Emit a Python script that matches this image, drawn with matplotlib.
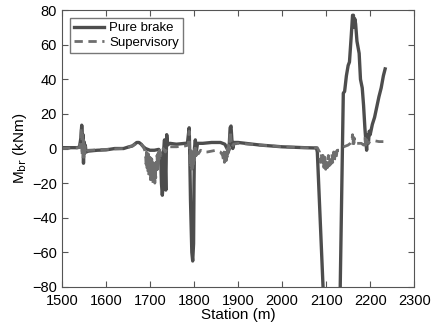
import matplotlib
matplotlib.use('Agg')
import matplotlib.pyplot as plt

# station (m) and braking moment (kNm)
pure_station = [1500, 1520, 1535, 1540, 1543, 1545, 1546, 1547, 1548, 1549, 1550, 1551, 1553, 1555,
                1560, 1580, 1600, 1620, 1640, 1650, 1660, 1670, 1675, 1680, 1685, 1690, 1700, 1710,
                1720, 1724, 1726, 1728, 1730, 1731, 1733, 1734, 1736, 1737, 1738, 1740, 1745, 1760,
                1780, 1785, 1789, 1790, 1792, 1795, 1797, 1799, 1800, 1801, 1803, 1805, 1808, 1820,
                1840, 1860, 1870, 1875, 1878, 1880, 1882, 1884, 1886, 1888, 1890, 1900, 1950, 2000,
                2050, 2078, 2080, 2093, 2119, 2132, 2139, 2142, 2146, 2150, 2153, 2157, 2160, 2162,
                2163, 2165, 2167, 2170, 2175, 2178, 2182, 2185, 2188, 2190, 2192, 2194, 2196, 2198,
                2200, 2205, 2210, 2215, 2220, 2225, 2230, 2234]
pure_moment = [0.5, 0.5, 0.5, 1, 6, 13.5, 10, -2, 8, -8.5, 4, -3, 2, -2,
               -1.5, -1, -0.8, 0, 0, 0.8, 1.5, 3.5, 3.5, 2.5, 1, 0, -1, -1,
               -0.5, -3, -20, -27, -20, -1, 5, -5, -24, -3, 8, 2, 3, 2.5,
               3, 3, 12, 1, -30, -60, -65, -55, -20, 0, 5, -2, 3, 3,
               3.5, 3.5, 2.5, 0, -2, 2, 12, 13, 5, 0, 3.5, 3.5, 2, 1,
               0.5, 0.3, -2, -80, -240, -80, 32, 33, 42, 48, 50, 65, 77, 77,
               70, 75, 72, 62, 55, 40, 35, 25, 12, 5, -1, 8, 3, 10,
               8, 14, 18, 24, 30, 35, 42, 46]

sup_station = [1500, 1540, 1543, 1544, 1545, 1546, 1547, 1548, 1549, 1550, 1551, 1552, 1553, 1556,
               1560, 1600, 1640, 1660, 1670, 1678, 1685, 1688,
               1690, 1691, 1692, 1693, 1694, 1695, 1696, 1697, 1698, 1699, 1700, 1701, 1702, 1703,
               1704, 1705, 1706, 1707, 1708, 1709, 1710, 1711, 1712, 1713, 1714, 1715, 1716, 1717,
               1718, 1719, 1720, 1721, 1722, 1725, 1730, 1735, 1740, 1760, 1780, 1787,
               1788, 1789, 1790, 1791, 1792, 1793, 1794, 1795, 1796, 1797, 1798, 1799, 1800, 1801,
               1802, 1803, 1804, 1805, 1806, 1807, 1810, 1815, 1820, 1830, 1840, 1850,
               1860, 1865, 1867, 1868, 1869, 1870, 1871, 1872, 1873, 1874, 1875, 1876, 1877, 1878,
               1880, 1882, 1884, 1886, 1890, 1900, 1950, 2000, 2050, 2080,
               2085, 2087, 2089, 2091, 2093, 2095, 2097, 2099, 2101, 2103, 2105, 2107, 2109, 2111,
               2113, 2115, 2117, 2119, 2121, 2123, 2125, 2127, 2130, 2140, 2150, 2155, 2158, 2160,
               2161, 2162, 2163, 2164, 2166, 2170, 2180, 2185, 2188, 2190, 2192, 2195, 2200, 2210,
               2220, 2230]
sup_moment = [0, 0.5, 5, 12, 6, -4, 8, -6, 5, -5, 2, -3, 1, -2,
              -1, -0.5, 0, 1.5, 3, 3, 1, -1,
              -3, -9, -2, -12, -4, -14, -3, -16, -6, -15, -5, -18, -7, -17,
              -6, -19, -8, -21, -9, -18, -7, -20, -10, -17, -6, -14, -4, -12,
              -3, -9, -1, -6, -1, -4, 0, -2, 1, 1, 1.5, 2,
              6, 10, -2, -8, -1, -10, -3, -12, -4, -11, -2, -9, -1, -7,
              0, -6, 1, -4, 0, -3, -3, -1, -2, -2, -1.5, -1,
              -2, -4, -7, -2, -8, -3, -6, -1, -7, -2, -5, 0, -3, 2,
              -1, 10, 5, 1, 2.5, 3, 2, 1, 0.5, 0.5,
              -2, -8, -3, -10, -4, -11, -5, -12, -6, -11, -4, -10, -5, -9,
              -3, -8, -2, -7, -2, -5, -1, -1, -1, 1, 2, 3, 4, 8,
              2, 7, 3, 6, 3, 3, 3, 2, 6, 1, 5, 3, 4, 4.5,
              4, 4]

xticks = [1500, 1600, 1700, 1800, 1900, 2000, 2100, 2200, 2300]
yticks = [-80, -60, -40, -20, 0, 20, 40, 60, 80]

plt.rcParams['font.family'] = ['Liberation Sans', 'DejaVu Sans']

fig = plt.figure(figsize=(4.36, 3.25), dpi=100)
ax = fig.add_axes([0.142, 0.117, 0.808, 0.852])

ax.plot(pure_station, pure_moment, color='#4d4d4d', lw=2.4, label='Pure brake')
ax.plot(sup_station, sup_moment, color='#6e6e6e', lw=2.0, ls='--', dashes=(3, 2), label='Supervisory')

ax.set_xlim(1500, 2300)
ax.set_ylim(-80, 80)
ax.set_xticks(xticks)
ax.set_yticks(yticks)
ax.set_yticklabels([str(t).replace('-', '\u2212') for t in yticks])
ax.tick_params(direction='in', top=True, right=True, labelsize=10.5, length=4, color='#555555')
ax.tick_params(axis='x', pad=5)
for sp in ax.spines.values():
    sp.set_color('#555555')

ax.set_xlabel('Station (m)', fontsize=11, labelpad=0)
ax.set_ylabel(r'M$_{\rm br}$ (kNm)', fontsize=11, labelpad=2)

leg = ax.legend(loc='upper left', fontsize=9.5, frameon=True, fancybox=False,
                handlelength=2.3, handletextpad=0.4, borderpad=0.3, labelspacing=0.2,
                borderaxespad=0.6)
leg.get_frame().set_edgecolor('#555555')
leg.get_frame().set_linewidth(1.0)

fig.savefig('out.png', dpi=100)
